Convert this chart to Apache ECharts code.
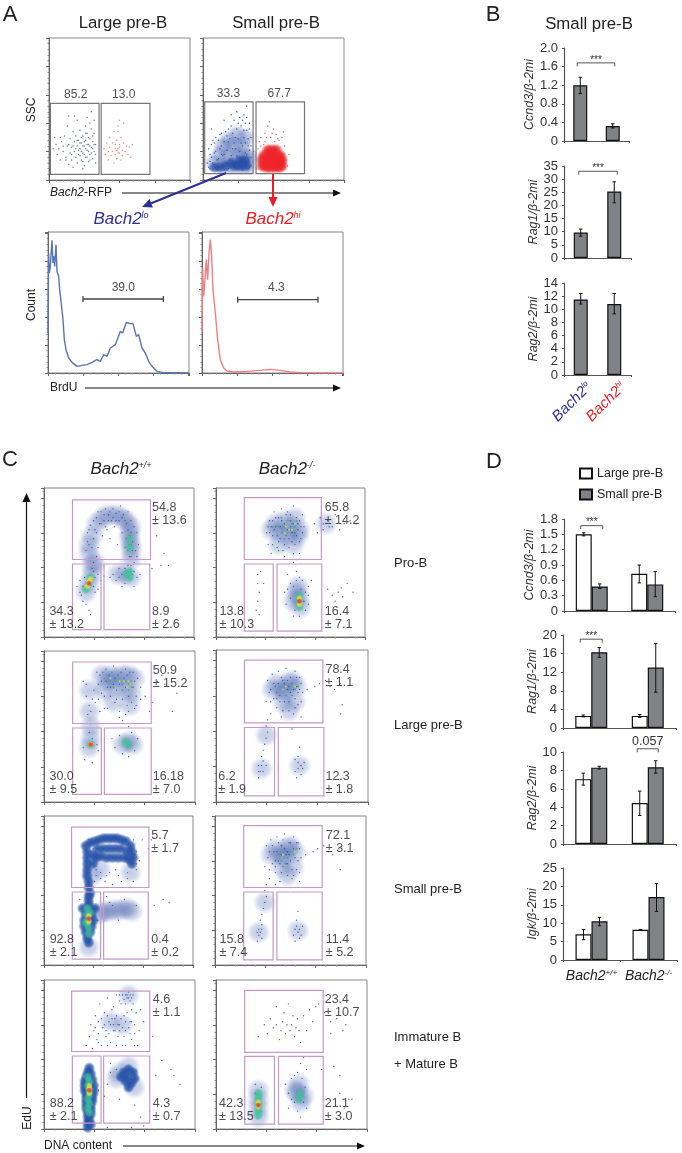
<!DOCTYPE html>
<html>
<head>
<meta charset="utf-8">
<style>html,body{margin:0;padding:0;background:#fff}#main{width:682px;height:1153px}</style>
<script src="https://cdn.jsdelivr.net/npm/echarts@6/dist/echarts.min.js"></script>
</head>
<body>
<div id="main"></div>
<script>
// ---- bar values, panel B ----
var bCats = ['Bach2lo', 'Bach2hi'];
var bCcnd3 = [1.2, 0.32];
var bCcnd3Err = [[1.02, 1.37], [0.28, 0.37]];
var bRag1 = [9.7, 25.3];
var bRag1Err = [[8.3, 11], [21, 29]];
var bRag2 = [11.5, 10.8];
var bRag2Err = [[10.8, 12.4], [9.3, 12.4]];

// ---- bar values, panel D ----
var dCats = ['Bach2+/+', 'Bach2-/-'];
var dCcnd3Large = [1.5, 0.73];
var dCcnd3Small = [0.48, 0.52];
var dCcnd3LargeErr = [[1.47, 1.53], [0.55, 0.9]];
var dCcnd3SmallErr = [[0.44, 0.53], [0.28, 0.77]];
var dRag1Large = [2.6, 2.6];
var dRag1Small = [16.3, 13];
var dRag1LargeErr = [[2.4, 2.8], [2.3, 2.9]];
var dRag1SmallErr = [[15.2, 17.3], [7.7, 18.2]];
var dRag2Large = [7.05, 4.45];
var dRag2Small = [8.3, 8.35];
var dRag2LargeErr = [[6.4, 7.7], [3.1, 5.75]];
var dRag2SmallErr = [[8.15, 8.45], [7.7, 9.05]];
var dIgkLarge = [7, 8.2];
var dIgkSmall = [10.5, 17.1];
var dIgkLargeErr = [[5.5, 8.3], [8.1, 8.3]];
var dIgkSmallErr = [[9.3, 11.6], [13.2, 20.8]];

// ---- BrdU histograms [channel, count] ----
var histLo = [[0,120],[2,360],[4,300],[7,320],[12,398],[15,330],[18,350],[20,320],[24,385],[27,305],[32,290],[35,250],[38,225],[42,220],[45,160],[49,100],[54,70],[62,45],[72,32],[87,20],[102,23],[117,25],[132,32],[147,40],[157,35],[167,55],[177,50],[187,75],[202,85],[217,125],[224,120],[235,152],[245,148],[255,148],[265,110],[272,115],[282,75],[292,60],[302,35],[312,20],[327,5],[347,1],[387,1],[423,0]];
var histHi = [[0,120],[2,315],[5,230],[9,280],[13,340],[17,280],[21,360],[25,400],[29,350],[33,250],[40,180],[47,100],[55,40],[65,15],[75,6],[95,3],[135,5],[175,8],[205,11],[235,8],[265,3],[295,1],[423,0]];

// ---- panel A events, flat x,y lists in channel units ----
var aLargeBlue = [3,22,5,25,6,18,8,14,9,27,10,20,11,31,12,16,13,24,13,38,14,11,15,19,15,29,16,23,16,14,17,34,17,9,18,27,18,20,19,16,19,31,20,24,20,12,20,42,21,18,21,28,22,22,22,35,23,14,23,26,24,19,24,31,25,10,25,24,26,16,26,28,26,38,27,21,27,33,28,13,28,25,29,18,29,29,30,23,30,36,30,48,31,15,31,27,32,20,32,33,33,25,33,12,27,44,24,8,18,45,14,45,12,14,8,30,4,30,29,40,32,42,
    21,21,22,17,23,20,24,24,25,27,25,18,26,22,27,25,27,16,28,20,28,30,29,24,29,14,30,19,31,22,32,25,33,18,23,30,24,13,19,22,20,28,17,24,22,26,26,33,31,31,16,18,14,25,10,24,7,22];
var aLargeRed = [39,22,40,18,41,26,42,20,42,14,43,30,43,23,44,17,45,26,45,20,46,12,46,34,47,22,47,18,48,28,48,15,49,22,49,38,50,19,50,25,51,14,51,30,52,21,52,17,53,26,53,40,54,20,55,24,56,18,57,23,58,16,50,42,49,34,59,25,48,21,49,19,50,23,47,25];
var aSmallBlue = [3,12,4,22,5,8,6,16,7,28,8,11,9,20,10,7,11,15,12,32,13,24,14,10,15,18,16,34,17,7,18,27,19,14,20,38,21,22,22,9,23,30,24,17,25,40,26,12,27,26,28,7,29,35,30,19,31,44,32,24,33,9,34,30,24,48,29,46,33,40,15,42,11,28,6,36,20,46,31,52,34,16,12,8,17,12,28,14,34,10,
    4,9,5,18,6,25,7,12,8,19,9,30,10,14,11,9,12,22,13,33,14,17,15,27,15,7,16,12,17,21,18,36,18,8,19,29,20,17,20,11,21,33,22,26,23,13,23,22,24,36,25,8,25,29,26,20,27,13,27,38,28,24,29,9,29,30,30,13,30,26,31,35,31,18,32,8,32,29,33,21,33,36,34,24,28,42,22,42,17,31,13,18,8,26,5,13,26,44,30,40];
var aSmallBlueCloud = [8,12,13,10,18,10,23,10,28,10,32,10,12,18,18,17,24,17,29,17,33,16,22,24,28,24,14,24,30,30,18,28,24,32];
var aSmallBlueCore = [22,10,25,10,28,10,31,10,26,14,30,14,20,12,16,10,12,9,8,9];
var aSmallRed = [38,8,39,22,40,27,41,30,42,14,44,33,46,38,48,30,50,36,52,32,54,28,56,30,58,24,59,14,60,10,61,18,47,41,43,25,36,20,57,34,41,24,45,30,49,33,53,29,51,27,44,27];
var aSmallRedCore = [42,10,45,9,48,9,51,9,54,9,56,10,42,14,45,13,48,13,51,13,54,13,56,14,43,17,46,17,49,17,52,17,55,17,46,21,49,21,52,21];

// ---- panel C events by density level: dots, haze, solid, mid, hot, core, specks ----
// Pro-B, Bach2+/+
var c1lDots = [28,58,30,62,29,70,31,75,33,66,34,72,35,80,36,60,37,76,38,84,39,68,40,78,41,86,42,72,43,82,44,66,45,78,46,86,47,74,48,83,49,62,50,78,51,88,52,70,53,82,54,60,55,76,56,84,57,68,58,78,59,64,60,74,61,58,62,70,58,54,60,50,56,48,62,54,63,62,35,54,33,50,32,46,36,42,38,38,40,41,44,40,46,42,48,38,50,46,52,34,54,36,60,34,62,40,64,42,24,38,25,28,26,24,28,22,30,18,31,15,34,30,36,32,22,34,75,68,80,56,78,48,72,46,83,48,74,76,
    29,64,30,72,32,60,33,78,35,70,36,84,38,76,40,82,41,74,43,78,44,84,46,80,48,78,50,84,52,80,54,78,56,72,57,62,58,70,59,58,56,58,55,66,57,54,58,48,54,46,56,44,59,42,60,44,52,42,50,40,33,44,34,40,26,34,27,40,33,34,24,30];
var c1lHaze = [30,56,30,62,32,68,35,76,39,80,43,82,48,82,52,80,55,78,58,74,57,70,57,66,58,62,58,58,58,52,32,48,34,50,28,30,30,36,32,42,54,42,58,40,49,42];
var c1lMid = [28,32,30,36,31,40,57,44,55,42,57,40,57,66,57,60];
var c1lHot = [29,34,30,37,31,39];
var c1lCore = [30,36];
var c1lSpeck = [56,64,58,62,56,58,54,44,58,44,56,40];
// Pro-B, Bach2-/-
var c1rDots = [34,70,35,62,36,78,37,56,38,68,39,84,40,74,41,60,42,80,43,66,44,86,45,58,46,76,47,68,48,84,49,60,50,78,51,70,52,88,53,62,54,80,55,72,56,56,57,66,58,82,59,74,52,50,54,44,56,40,48,42,50,36,46,30,47,22,62,22,60,30,62,34,64,38,66,76,70,80,72,72,75,78,78,74,80,82,83,72,86,76,90,78,94,76,68,70,28,42,28,36,29,30,28,24,27,18,29,15,30,44,32,36,75,32,78,28,82,30,85,27,80,24,84,33,88,36,92,30,
    36,70,37,74,38,62,39,72,40,80,41,68,42,64,43,74,44,78,45,70,46,62,47,82,48,72,49,66,50,74,50,82,51,64,52,76,53,70,54,68,55,76,56,64,56,78,57,74,58,70,38,78,35,74,42,58,46,54,52,56,54,52,54,38,52,34,58,38,57,32,50,26,53,18,59,24,60,18,52,14,56,14,48,32,62,28,72,76,76,74];
var c1rHaze = [37,72,40,76,43,70,46,78,48,68,50,74,53,80,55,68,42,62,52,62,56,72,54,30,56,26,57,20,52,24,55,34,74,76];
var c1rMid = [56,28,55,24,56,20];
var c1rHot = [56,26,56,22];
var c1rCore = [56,24];
var c1rSpeck = [42,74,44,70,46,74,48,78,48,70,50,72,51,76,52,68,53,74,54,78,46,66,44,80,38,74];
var c1rSpeckHot = [47,74,49,72,51,72,46,70,53,76];
// Large pre-B, Bach2+/+
var c2lDots = [26,80,28,70,30,64,29,58,31,52,30,46,32,42,33,74,34,66,35,86,37,60,38,80,40,70,41,88,42,62,44,76,46,90,47,66,49,84,50,60,52,74,54,88,55,64,57,78,59,86,60,62,61,70,62,82,64,76,67,70,72,66,75,80,80,78,85,60,88,72,52,54,56,50,58,46,45,42,47,36,50,44,52,32,56,30,60,34,62,42,26,36,27,28,35,38,36,34,32,26,64,68,70,60,78,84,
    36,78,37,84,38,72,39,86,41,80,42,76,43,84,44,70,45,86,46,78,47,82,48,74,50,78,51,86,52,68,53,82,54,76,55,84,56,70,57,86,58,66,59,76,60,80,61,64,56,60,54,58,50,56,48,68,40,62,36,68,31,60,28,78,32,68];
var c2lHaze = [30,60,30,74,38,84,42,80,44,84,48,82,52,84,56,84,60,82,40,74,48,76,54,74,58,72,57,64,46,66,31,50,31,42,30,36,56,40,52,38,59,38];
var c2lMid = [31,38,56,38,54,40];
var c2lHot = [31,38];
var c2lCore = [31,38];
var c2lSpeck = [40,82,42,84,44,80,46,84,48,80,50,82,52,78,54,80,56,78,58,80,56,74,58,76,46,76,52,74];
var c2lSpeckHot = [44,82,50,80,53,80,55,76,57,78,56,80];
// Large pre-B, Bach2-/-
var c2rDots = [33,66,34,80,35,72,36,58,37,84,38,68,39,76,40,62,41,86,42,70,43,56,44,80,45,66,46,88,47,74,48,60,49,82,50,70,51,58,52,86,53,76,54,64,55,82,56,56,57,72,34,54,33,50,34,46,33,42,32,38,31,34,30,30,31,27,29,20,28,16,33,24,54,30,56,18,52,20,58,26,53,16,55,36,50,48,60,74,65,76,68,78,72,80,75,76,78,74,82,78,83,64,82,58,
    36,74,38,78,40,72,41,78,42,66,43,82,44,74,45,78,46,70,47,80,48,76,49,72,50,78,51,74,52,68,53,82,54,72,55,74,56,78,36,66,40,68,44,60,48,66,52,62,56,66,28,24,30,24,31,20,28,20,54,26,56,24,54,22,57,22,52,28];
var c2rHaze = [37,74,40,78,43,74,46,72,48,78,50,80,53,76,44,66,52,66,48,60,30,22,55,24,33,44];
var c2rMid = [];
var c2rHot = [];
var c2rCore = [];
var c2rSpeck = [42,76,44,72,46,76,48,74,50,78,52,74,54,76,46,70];
var c2rSpeckHot = [46,76,52,76,44,74];
// Small pre-B, Bach2+/+
var c3lDots = [30,84,33,78,64,70,62,76,35,60,38,58,41,56,44,62,46,54,50,60,52,56,56,62,60,56,58,52,62,64,66,84,44,42,46,40,62,40,70,78,74,40,80,44,84,42,24,44,36,30,40,30,50,30,42,46,54,44,72,84,34,56,37,52,56,58,48,64,61,74,62,68,60,84,38,62,42,60,35,64];
var c3lSolid = [28,80,29,76,29,72,29,68,29,64,29,60,30,56,30,52,31,48,31,82,34,83,37,84,40,85,43,85,46,85,49,85,52,84,55,83,58,80,59,76,60,72,59,68,36,78,40,78,44,78,48,78,52,78,56,76,38,73,42,72,46,72,50,72,54,72,57,71,35,72,33,68,33,74,30,46,30,43,30,40,30,36,28,34,32,34,27,30,33,30,27,26,32,26,28,22,31,22,29,18,30,15,34,38,26,38];
var c3lHaze = [40,36,44,36,48,37,52,37,56,38,59,36,37,34,32,60,38,64,58,62,30,12];
var c3lMid = [29,38,29,34,29,30,30,25,31,35,28,28,30,21];
var c3lHot = [30,33,30,29];
var c3lCore = [30,31];
var c3lSpeck = [];
// Small pre-B, Bach2-/-
var c3rDots = [33,66,34,80,35,72,36,58,37,84,38,68,39,76,40,62,41,86,42,70,43,56,44,80,45,66,46,88,47,74,48,60,49,82,50,70,51,58,52,86,53,76,54,64,55,82,56,56,57,72,34,54,33,50,34,46,33,42,32,38,31,34,30,30,31,27,29,20,28,16,31,24,54,30,56,18,52,20,58,26,53,16,55,36,60,74,65,76,68,78,72,80,75,76,78,74,82,78,83,64,82,90,40,54,50,52,
    36,76,38,80,40,70,41,76,42,82,43,68,44,74,45,84,46,78,47,68,48,76,49,74,50,82,51,64,52,78,53,72,54,82,55,70,56,78,36,64,40,66,44,62,48,68,52,60,56,62,29,24,30,22,28,22,31,18,54,26,56,24,55,22,57,20,53,24];
var c3rHaze = [37,74,40,78,43,74,46,72,48,78,50,80,53,76,44,66,52,66,48,60,29,22,55,23,33,42];
var c3rMid = [];
var c3rHot = [];
var c3rCore = [];
var c3rSpeck = [42,74,44,76,46,72,48,72,50,76,52,74,54,78,44,70];
var c3rSpeckHot = [45,74,53,76];
// Immature and mature B, Bach2+/+
var c4lDots = [28,56,30,62,31,70,32,54,33,66,34,76,35,60,36,72,37,84,38,56,39,68,40,78,41,62,42,88,43,72,44,58,45,80,46,66,47,74,48,90,49,62,50,70,51,84,52,56,53,76,54,66,55,88,56,92,57,72,58,60,59,84,60,70,61,78,62,56,63,66,56,88,57,90,54,90,58,88,52,90,64,80,66,72,72,62,78,46,84,40,74,36,86,36,90,30,44,44,44,38,42,30,48,40,50,20,60,16,64,8,70,12,66,2,58,1,42,1,36,26,40,22,
    34,68,36,64,38,74,40,70,41,66,42,76,43,64,44,70,45,74,46,70,47,66,48,76,49,70,50,66,51,74,52,68,53,62,54,72,55,78,56,68,57,64,58,72,46,82,50,86,54,84,58,80,60,64,36,58,42,56,48,56,54,56,60,56,50,90,55,90,59,90,53,87,57,86];
var c4lSolid = [30,41,29,38,28,35,31,37,27,32,32,33,27,29,33,29,27,26,33,25,28,23,32,22,28,20,32,19,28,17,31,16,28,14,31,13,29,11,31,10,29,8,30,6,29,4,31,3,29,1,56,40,53,38,59,38,51,35,55,35,60,34,54,32,58,31,56,28];
var c4lHaze = [56,42,50,38,60,28,56,90,44,72,52,70,48,34];
var c4lMid = [29,35,30,32,29,29,30,26,30,23,29,20,30,17,29,14,30,11];
var c4lHot = [30,29,30,27,30,24];
var c4lCore = [30,26];
var c4lSpeck = [];
// Immature and mature B, Bach2-/-
var c4rDots = [32,70,28,62,34,64,36,74,38,68,40,82,42,60,44,72,45,78,46,64,48,84,50,70,52,62,54,74,56,58,58,76,60,66,62,80,64,72,66,82,68,84,72,78,76,72,80,74,86,70,84,66,76,64,78,42,82,36,82,24,84,20,88,20,90,20,85,14,70,40,56,44,58,48,60,40,46,30,48,24,50,20,26,30,30,28,48,14,60,14,56,8,40,70,43,66,47,70,49,66,51,76,53,68,55,66,50,34,52,36,54,38,57,34,52,18,58,18,54,12,59,28,26,24,30,12];
var c4rSolid = [];
var c4rHaze = [28,26,28,20,28,14,28,8,55,30,54,24,56,18,52,26,58,22];
var c4rMid = [28,24,28,21,28,18,28,15,28,12,28,9,56,24,55,20];
var c4rHot = [28,18,28,15];
var c4rCore = [28,16];
var c4rSpeck = [];

// ---- gates [x0, y0, x1, y1] ----
var gatesA1 = [[1,4,35.5,54],[37,4,71.6,54]];
var gatesA2 = [[1.2,4.5,35.5,55],[37.6,4.5,72,55]];
var gatesC1L = [[19,52,71,92],[19,5,38,49],[40,5,70.5,49]];
var gatesC1R = [[19,52,70.7,93.5],[19,4,38.4,49],[41,4,71,49]];
var gatesC2L = [[19,52,71,92.7],[19,5,38,49],[40,5,71,49]];
var gatesC2R = [[18.7,52,70.3,93.4],[18.7,4,38.5,49],[41,4,71,49]];
var gatesC3L = [[18.5,52,70.4,92.6],[19,4,38,49],[40,4,70,49]];
var gatesC3R = [[19,52,71,93.5],[19,3.5,38.5,49],[41,3.5,71,49]];
var gatesC4L = [[18.3,52,70,92.6],[18.8,4,37.8,49],[39.5,4,70,49]];
var gatesC4R = [[19,51.4,71,93],[19,3.3,38.7,48.8],[41.4,3.3,71,48.8]];

// ---- gate percentages [top, top err, low-left, err, low-right, err] ----
var pctC1L = ['54.8', '± 13.6', '34.3', '± 13.2', '8.9', '± 2.6'];
var pctC1R = ['65.8', '± 14.2', '13.8', '± 10.3', '16.4', '± 7.1'];
var pctC2L = ['50.9', '± 15.2', '30.0', '± 9.5', '16.18', '± 7.0'];
var pctC2R = ['78.4', '± 1.1', '6.2', '± 1.9', '12.3', '± 1.8'];
var pctC3L = ['5.7', '± 1.7', '92.8', '± 2.1', '0.4', '± 0.2'];
var pctC3R = ['72.1', '± 3.1', '15.8', '± 7.4', '11.4', '± 5.2'];
var pctC4L = ['4.6', '± 1.1', '88.2', '± 2.1', '4.3', '± 0.7'];
var pctC4R = ['23.4', '± 10.7', '42.3', '± 13.5', '21.1', '± 3.0'];

var GREY = '#808285';
var AXIS = '#666';
var FONT = '"Liberation Sans", Arial, sans-serif';

var grids = [], xAxes = [], yAxes = [], series = [];

function pairs(flat) {
    var out = [];
    for (var i = 0; i + 1 < flat.length; i += 2) out.push([flat[i], flat[i + 1]]);
    return out;
}

function soft(r, g, b, a) {
    var c = 'rgba(' + r + ',' + g + ',' + b + ',';
    return {
        type: 'radial', x: 0.5, y: 0.5, r: 0.5,
        colorStops: [
            {offset: 0, color: c + a + ')'},
            {offset: 0.55, color: c + (a * 0.75) + ')'},
            {offset: 1, color: c + '0)'}
        ]
    };
}

function addPlot(box, xInt, yInt, xMax, yMax) {
    var i = grids.length;
    grids.push({left: box[0], top: box[1], width: box[2] - box[0], height: box[3] - box[1],
        show: true, borderColor: '#888', borderWidth: 1, backgroundColor: 'transparent'});
    xAxes.push({gridIndex: i, type: 'value', min: 0, max: xMax, interval: xInt,
        axisLine: {show: true, onZero: false, lineStyle: {color: AXIS, width: 1}},
        axisTick: {show: true, length: 3, lineStyle: {color: AXIS, width: 1}},
        minorTick: {show: true, length: 1.5, splitNumber: 5, lineStyle: {color: '#888', width: 1}},
        axisLabel: {show: false}, splitLine: {show: false}});
    yAxes.push({gridIndex: i, type: 'value', min: 0, max: yMax, interval: yInt,
        axisLine: {show: true, onZero: false, lineStyle: {color: AXIS, width: 1}},
        axisTick: {show: true, length: 3, lineStyle: {color: AXIS, width: 1}},
        minorTick: {show: true, length: 1.5, splitNumber: 5, lineStyle: {color: '#888', width: 1}},
        axisLabel: {show: false}, splitLine: {show: false}});
    return i;
}

function addDots(i, flat, size, color, opacity, z) {
    if (!flat || !flat.length) return;
    series.push({type: 'scatter', xAxisIndex: i, yAxisIndex: i, data: pairs(flat), symbol: 'circle',
        symbolSize: size, itemStyle: {color: color, opacity: opacity}, silent: true, z: z});
}

function addGates(i, gates, color) {
    series.push({type: 'custom', xAxisIndex: i, yAxisIndex: i, data: gates, clip: false, silent: true, z: 8,
        encode: {x: [0, 2], y: [1, 3]},
        renderItem: function (params, api) {
            var a = api.coord([api.value(0), api.value(3)]);
            var b = api.coord([api.value(2), api.value(1)]);
            return {type: 'rect', shape: {x: a[0], y: a[1], width: b[0] - a[0], height: b[1] - a[1]},
                style: {fill: 'none', stroke: color, lineWidth: 1.2}};
        }});
}

function addText(i, items, size, align) {
    series.push({type: 'scatter', xAxisIndex: i, yAxisIndex: i, symbolSize: 0, silent: true, z: 10,
        data: items.map(function (t) { return {value: [t[0], t[1]], name: t[2]}; }),
        label: {show: true, position: align === 'center' ? 'inside' : 'right', distance: 0,
            formatter: '{b}', fontSize: size, color: '#222', fontFamily: FONT}});
}

function addRange(i, range) {
    series.push({type: 'custom', xAxisIndex: i, yAxisIndex: i, data: [range], silent: true, z: 8, clip: false,
        encode: {x: [0, 1], y: 2},
        renderItem: function (params, api) {
            var a = api.coord([api.value(0), api.value(2)]);
            var b = api.coord([api.value(1), api.value(2)]);
            var st = {stroke: '#444', lineWidth: 1.3};
            return {type: 'group', children: [
                {type: 'line', shape: {x1: a[0], y1: a[1], x2: b[0], y2: b[1]}, style: st},
                {type: 'line', shape: {x1: a[0], y1: a[1] - 3, x2: a[0], y2: a[1] + 3}, style: st},
                {type: 'line', shape: {x1: b[0], y1: b[1] - 3, x2: b[0], y2: b[1] + 3}, style: st}
            ]};
        }});
}

// one Fig C panel
function addFlow(box, gates, pct, dots, haze, solid, mid, hot, core, speck, speckHot, tx, lx) {
    var i = addPlot(box, 33.33, 23.3, 100, 100);
    addDots(i, haze, 24, soft(60, 90, 170, 0.32), 1, 2);
    addDots(i, solid, 12, soft(38, 82, 168, 1), 1, 3);
    addDots(i, dots, 1.4, '#34509f', 0.9, 4);
    addDots(i, speck, 2, '#3fa98f', 0.9, 5);
    addDots(i, speckHot, 2, '#d6d64a', 0.95, 5);
    addDots(i, mid, 10, soft(60, 195, 150, 0.85), 1, 5);
    addDots(i, hot, 7, soft(232, 222, 60, 0.95), 1, 6);
    addDots(i, core, 6, soft(235, 60, 40, 1), 1, 7);
    addGates(i, gates, '#c49ac6');
    addText(i, [[tx, 87, pct[0]], [tx, 78.4, pct[1]], [lx, 17, pct[2]], [lx, 8.3, pct[3]], [tx, 17, pct[4]], [tx, 8.3, pct[5]]], 12.5);
}

// ---- panel A scatter ----
var a1 = addPlot([49, 38, 190, 180], 25, 20, 100, 100);
addDots(a1, aLargeBlue, 1.5, '#4a62ad', 0.85, 4);
addDots(a1, aLargeRed, 1.5, '#ef6a70', 0.85, 4);
addGates(a1, gatesA1, '#777');
addText(a1, [[19, 60, '85.2'], [53, 60, '13.0']], 12, 'center');

var a2 = addPlot([203, 38, 344, 180], 25, 20, 100, 100);
addDots(a2, aSmallBlueCloud, 20, soft(55, 85, 170, 0.4), 1, 2);
addDots(a2, aSmallBlueCore, 12, soft(35, 75, 165, 0.85), 1, 3);
addDots(a2, aSmallBlue, 1.5, '#34509f', 0.9, 4);
addDots(a2, aSmallRedCore, 13, soft(238, 35, 40, 1), 1, 3);
addDots(a2, aSmallRed, 1.5, '#ef4a50', 0.9, 4);
addGates(a2, gatesA2, '#777');
addText(a2, [[18, 61, '33.3'], [54, 61, '67.7']], 12, 'center');

// ---- BrdU histograms ----
var h1 = addPlot([48, 232, 189, 373], 105, 84, 423, 423);
series.push({type: 'line', xAxisIndex: h1, yAxisIndex: h1, data: histLo, symbol: 'none', silent: true, z: 4,
    lineStyle: {color: '#5b74b5', width: 1.4}});
addRange(h1, [105, 346, 222]);
addText(h1, [[226, 255, '39.0']], 12, 'center');

var h2 = addPlot([202, 232, 343, 373], 105, 84, 423, 423);
series.push({type: 'line', xAxisIndex: h2, yAxisIndex: h2, data: histHi, symbol: 'none', silent: true, z: 4,
    lineStyle: {color: '#ef7f84', width: 1.4}});
addRange(h2, [107, 348, 220]);
addText(h2, [[223, 255, '4.3']], 12, 'center');

// ---- panel C ----
addFlow([44, 488, 194, 637], gatesC1L, pctC1L, c1lDots, c1lHaze, [], c1lMid, c1lHot, c1lCore, c1lSpeck, [], 72, 3.6);
addFlow([216, 488, 365, 637], gatesC1R, pctC1R, c1rDots, c1rHaze, [], c1rMid, c1rHot, c1rCore, c1rSpeck, c1rSpeckHot, 73, 2.4);
addFlow([44, 651, 195, 802], gatesC2L, pctC2L, c2lDots, c2lHaze, [], c2lMid, c2lHot, c2lCore, c2lSpeck, c2lSpeckHot, 72, 3.6);
addFlow([216, 650, 368, 802], gatesC2R, pctC2R, c2rDots, c2rHaze, [], c2rMid, c2rHot, c2rCore, c2rSpeck, c2rSpeckHot, 72, 1.5);
addFlow([44, 816, 193, 965], gatesC3L, pctC3L, c3lDots, c3lHaze, c3lSolid, c3lMid, c3lHot, c3lCore, c3lSpeck, [], 72, 3.8);
addFlow([215, 816, 366, 965], gatesC3R, pctC3R, c3rDots, c3rHaze, [], c3rMid, c3rHot, c3rCore, c3rSpeck, c3rSpeckHot, 73.4, 3);
addFlow([44, 980, 195, 1129], gatesC4L, pctC4L, c4lDots, c4lHaze, c4lSolid, c4lMid, c4lHot, c4lCore, c4lSpeck, [], 72, 3.8);
addFlow([216, 980, 367, 1129], gatesC4R, pctC4R, c4rDots, c4rHaze, c4rSolid, c4rMid, c4rHot, c4rCore, c4rSpeck, [], 72, 2);

// ---- bar charts ----
function addBarAxes(box, cats, max, interval, decimals, name, nameGap, labelSize, showCats) {
    var i = grids.length;
    grids.push({left: box[0], top: box[1], width: box[2], height: box[3]});
    xAxes.push({gridIndex: i, type: 'category', data: cats,
        axisLine: {show: true, lineStyle: {color: '#555', width: 1.2}},
        axisTick: {show: true, length: 2, lineStyle: {color: '#555'}},
        axisLabel: showCats || {show: false}, splitLine: {show: false}});
    yAxes.push({gridIndex: i, type: 'value', min: 0, max: max, interval: interval,
        name: name, nameLocation: 'middle', nameRotate: 90, nameGap: nameGap,
        nameTextStyle: {fontStyle: 'italic', fontSize: 12.5, color: '#333', fontFamily: FONT},
        axisLine: {show: true, lineStyle: {color: '#555', width: 1.2}},
        axisTick: {show: true, length: 2, lineStyle: {color: '#555'}},
        axisLabel: {margin: 6, fontSize: labelSize, color: '#333', fontFamily: FONT, formatter: function (v) {
            return v === 0 ? '0' : v.toFixed(decimals);
        }},
        splitLine: {show: false}});
    return i;
}

function addBars(i, name, values, color, width) {
    series.push({type: 'bar', name: name, xAxisIndex: i, yAxisIndex: i, data: values, barWidth: width, barGap: 0,
        itemStyle: {color: color, borderColor: '#111', borderWidth: 1.2}, silent: true, z: 3});
}

function addErrors(i, errs, offset) {
    series.push({type: 'custom', xAxisIndex: i, yAxisIndex: i, silent: true, z: 6,
        data: errs.map(function (e, k) { return [k, e[0], e[1]]; }),
        encode: {x: 0, y: [1, 2]},
        renderItem: function (params, api) {
            var lo = api.coord([api.value(0), api.value(1)]);
            var hi = api.coord([api.value(0), api.value(2)]);
            var x = lo[0] + offset;
            var st = {stroke: '#111', lineWidth: 1};
            return {type: 'group', children: [
                {type: 'line', shape: {x1: x, y1: lo[1], x2: x, y2: hi[1]}, style: st},
                {type: 'line', shape: {x1: x - 1.7, y1: lo[1], x2: x + 1.7, y2: lo[1]}, style: st},
                {type: 'line', shape: {x1: x - 1.7, y1: hi[1], x2: x + 1.7, y2: hi[1]}, style: st}
            ]};
        }});
}

function addBracket(i, catA, catB, value, padA, padB, text, textSize, textUp) {
    series.push({type: 'custom', xAxisIndex: i, yAxisIndex: i, silent: true, z: 6, clip: false,
        data: [[catA, catB, value]], encode: {x: [0, 1], y: 2},
        renderItem: function (params, api) {
            var a = api.coord([api.value(0), api.value(2)]);
            var b = api.coord([api.value(1), api.value(2)]);
            var x1 = a[0] + padA, x2 = b[0] + padB, y = a[1];
            return {type: 'group', children: [
                {type: 'polyline', shape: {points: [[x1, y + 3.5], [x1, y], [x2, y], [x2, y + 3.5]]},
                    style: {fill: 'none', stroke: '#555', lineWidth: 1}},
                {type: 'text', x: (x1 + x2) / 2, y: y - textUp,
                    style: {text: text, fontSize: textSize, fill: '#333', fontFamily: FONT, align: 'center', verticalAlign: 'middle'}}
            ]};
        }});
}

var b1 = addBarAxes([564, 48, 65, 93], bCats, 2, 0.4, 1, 'Ccnd3/β-2mi', 27, 13);
addBars(b1, 'Small', bCcnd3, GREY, 14);
addErrors(b1, bCcnd3Err, 0);
addBracket(b1, 0, 1, 1.68, -3, 2, '***', 10, 3);

var b2 = addBarAxes([564, 166, 67, 92], bCats, 35, 5, 0, 'Rag1/β-2mi', 24, 13);
addBars(b2, 'Small', bRag1, GREY, 14);
addErrors(b2, bRag1Err, 0);
addBracket(b2, 0, 1, 33, -2, 3, '***', 10, 3);

var b3 = addBarAxes([564, 283, 67, 92], bCats, 14, 2, 0, 'Rag2/β-2mi', 24, 13);
addBars(b3, 'Small', bRag2, GREY, 14);
addErrors(b3, bRag2Err, 0);

function addDChart(box, max, interval, decimals, name, nameGap, large, small, largeErr, smallErr, showCats) {
    var i = addBarAxes(box, dCats, max, interval, decimals, name, nameGap, 13, showCats);
    addBars(i, 'Large pre-B', large, '#fff', 16);
    addBars(i, 'Small pre-B', small, GREY, 16);
    addErrors(i, largeErr, -8);
    addErrors(i, smallErr, 8);
    return i;
}

var d1 = addDChart([564, 519, 111, 92], 1.8, 0.3, 1, 'Ccnd3/β-2mi', 26, dCcnd3Large, dCcnd3Small, dCcnd3LargeErr, dCcnd3SmallErr);
addBracket(d1, 0, 0, 1.67, -11, 11, '***', 10, 3);
var d2 = addDChart([563, 635, 113, 93], 20, 4, 0, 'Rag1/β-2mi', 22, dRag1Large, dRag1Small, dRag1LargeErr, dRag1SmallErr);
addBracket(d2, 0, 0, 19.1, -11, 11, '***', 10, 3);
var d3 = addDChart([563, 752, 113, 92], 10, 2, 0, 'Rag2/β-2mi', 22, dRag2Large, dRag2Small, dRag2LargeErr, dRag2SmallErr);
addBracket(d3, 1, 1, 10.35, -10.5, 10.5, '0.057', 12.5, 7);
var d4 = addDChart([563, 868, 114, 92], 25, 5, 0, 'Igk/β-2mi', 22, dIgkLarge, dIgkSmall, dIgkLargeErr, dIgkSmallErr, {
    margin: 9, interval: 0, fontFamily: FONT, formatter: function (v) {
        return v === 'Bach2+/+' ? '{a|Bach2}{s|+/+}' : '{a|Bach2}{s|-/-}';
    }, rich: {
        a: {color: '#222', fontStyle: 'italic', fontSize: 14, fontFamily: FONT},
        s: {color: '#222', fontStyle: 'italic', fontSize: 8, fontFamily: FONT, verticalAlign: 'top'}
    }});

// ---- texts and arrows placed on the figure ----
function txt(x, y, text, size, opts) {
    opts = opts || {};
    return {type: 'text', x: x, y: y, rotation: opts.rot || 0, silent: true, z: 20,
        style: {text: text, fontSize: size, fill: opts.color || '#222', fontFamily: FONT, fontStyle: opts.italic ? 'italic' : 'normal',
            align: opts.align || 'center', verticalAlign: 'middle', rich: opts.rich}};
}

function arrow(x1, y1, x2, y2, color, width, head) {
    var ang = Math.atan2(y2 - y1, x2 - x1);
    var bx = x2 - Math.cos(ang) * head, by = y2 - Math.sin(ang) * head;
    var nx = -Math.sin(ang) * head * 0.45, ny = Math.cos(ang) * head * 0.45;
    return [
        {type: 'line', silent: true, z: 20, shape: {x1: x1, y1: y1, x2: bx, y2: by}, style: {stroke: color, lineWidth: width}},
        {type: 'polygon', silent: true, z: 20, shape: {points: [[x2, y2], [bx + nx, by + ny], [bx - nx, by - ny]]}, style: {fill: color}}
    ];
}

function bachRich(color, size, supSize) {
    return {
        a: {fontSize: size, fontStyle: 'italic', fill: color, color: color, fontFamily: FONT},
        s: {fontSize: supSize, fontStyle: 'italic', fill: color, color: color, fontFamily: FONT, verticalAlign: 'top'}
    };
}

var texts = [
    txt(10, 15, 'A', 22), txt(493, 15, 'B', 22), txt(10, 460, 'C', 22), txt(494, 462, 'D', 22),
    txt(123, 23, 'Large pre-B', 16.8), txt(276, 23, 'Small pre-B', 16.8), txt(589, 24, 'Small pre-B', 16.8),
    txt(32, 110, 'SSC', 12, {rot: Math.PI / 2}),
    txt(32, 305, 'Count', 12, {rot: Math.PI / 2}),
    txt(50, 193, '{i|Bach2}-RFP', 12, {align: 'left', rich: {i: {fontStyle: 'italic', fontSize: 12, fontFamily: FONT, fill: '#222'}}}),
    txt(50, 388, 'BrdU', 12, {align: 'left'}),
    txt(121, 219, '{a|Bach2}{s|lo}', 17, {rich: bachRich('#2e3192', 17, 9)}),
    txt(273, 219, '{a|Bach2}{s|hi}', 17, {rich: bachRich('#ed1c24', 17, 9)}),
    txt(121, 469, '{a|Bach2}{s|+/+}', 16, {rich: bachRich('#222', 17, 9)}),
    txt(287, 469, '{a|Bach2}{s|-/-}', 16, {rich: bachRich('#222', 17, 9)}),
    txt(572, 402, '{a|Bach2}{s|lo}', 14, {rot: Math.PI / 4, rich: bachRich('#2e3192', 15, 8)}),
    txt(606, 402, '{a|Bach2}{s|hi}', 14, {rot: Math.PI / 4, rich: bachRich('#ed1c24', 15, 8)}),
    txt(394, 563, 'Pro-B', 13, {align: 'left'}),
    txt(394, 725, 'Large pre-B', 13, {align: 'left'}),
    txt(394, 889, 'Small pre-B', 13, {align: 'left'}),
    txt(394, 1037, 'Immature B', 13, {align: 'left'}),
    txt(394, 1064, '+ Mature B', 13, {align: 'left'}),
    txt(28, 1118, 'EdU', 12, {rot: Math.PI / 2}),
    txt(44, 1146, 'DNA content', 12, {align: 'left'})
];
var arrows = [].concat(
    arrow(122, 193, 341, 193, '#111', 1.2, 8),
    arrow(85, 388, 341, 388, '#111', 1.2, 8),
    arrow(226, 173, 142, 207, '#2e3192', 2, 10),
    arrow(273, 174, 273, 207, '#ed1c24', 2, 10),
    arrow(26.5, 1098, 26.5, 493, '#111', 1.2, 9),
    arrow(123, 1146, 365, 1146, '#111', 1.2, 8)
);

var chart = echarts.init(document.getElementById('main'), null, {renderer: 'canvas'});
chart.setOption({
    animation: false,
    backgroundColor: '#fff',
    textStyle: {fontFamily: FONT},
    legend: {orient: 'vertical', left: 574, top: 462, icon: 'rect', itemWidth: 12, itemHeight: 10, itemGap: 8,
        data: ['Large pre-B', 'Small pre-B'], textStyle: {fontSize: 12.5, color: '#222', fontFamily: FONT},
        selectedMode: false},
    grid: grids,
    xAxis: xAxes,
    yAxis: yAxes,
    series: series,
    graphic: {elements: texts.concat(arrows)}
});
window.onresize = chart.resize;
</script>
</body>
</html>
